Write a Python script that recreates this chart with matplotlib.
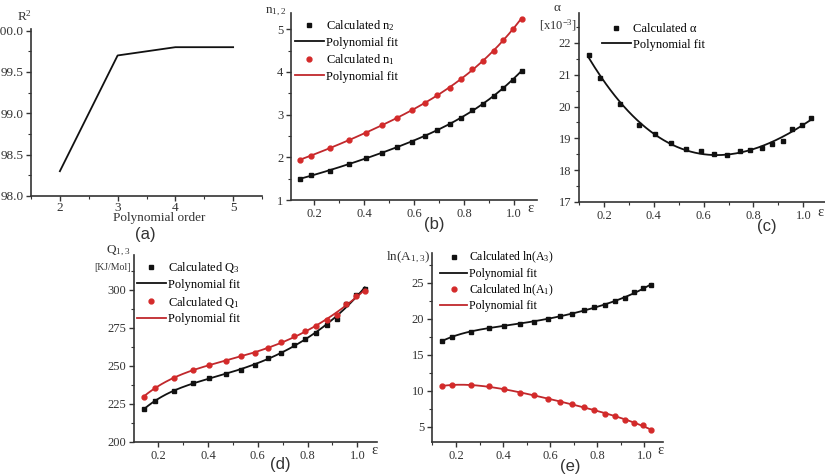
import numpy as np
import matplotlib
matplotlib.use("Agg")
import matplotlib.pyplot as plt
from matplotlib.ticker import MultipleLocator, FormatStrFormatter
from matplotlib.lines import Line2D

plt.rcParams['font.family'] = ['Liberation Serif', 'DejaVu Serif']
plt.rcParams['mathtext.default'] = 'regular'

# ---------------- data ----------------
orders = [2, 3, 4, 5]
r2 = [98.3, 99.7, 99.8, 99.8]

eps = [0.141, 0.185, 0.263, 0.34, 0.405, 0.47, 0.531, 0.59, 0.642, 0.692,
       0.744, 0.788, 0.833, 0.876, 0.918, 0.956, 0.994, 1.03]
n2 = [1.49, 1.58, 1.69, 1.84, 1.98, 2.11, 2.24, 2.37, 2.50, 2.64, 2.78, 2.93,
      3.10, 3.25, 3.43, 3.63, 3.82, 4.02]
n1 = [1.94, 2.04, 2.22, 2.40, 2.58, 2.75, 2.92, 3.10, 3.28, 3.46, 3.63, 3.84,
      4.06, 4.26, 4.48, 4.75, 5.00, 5.25]
alpha = [21.63, 20.9, 20.09, 19.42, 19.13, 18.85, 18.67, 18.59, 18.52, 18.48,
         18.6, 18.62, 18.7, 18.82, 18.92, 19.29, 19.41, 19.64]
Q3 = [221.5, 227.0, 233.4, 238.9, 242.2, 244.6, 247.5, 250.8, 255.0, 258.5,
      264.0, 267.9, 271.7, 276.7, 280.9, 290.5, 296.5, 300.7]
Q1 = [229.9, 235.4, 242.0, 247.5, 250.8, 253.4, 256.3, 258.5, 262.0, 265.5,
      269.5, 272.8, 276.1, 280.5, 283.8, 291.0, 296.3, 299.2]
lnA3 = [16.9, 17.5, 18.2, 18.75, 19.0, 19.3, 19.6, 20.0, 20.3, 20.7, 21.2,
        21.6, 21.9, 22.45, 22.8, 23.65, 24.3, 24.7]
lnA1 = [10.65, 10.83, 10.79, 10.6, 10.19, 9.72, 9.4, 8.89, 8.47, 8.15, 7.78,
        7.36, 6.85, 6.44, 5.93, 5.6, 5.23, 4.54]

BLACK = '#111111'
RED = '#d42a2a'
RED_LINE = '#c0282c'
SPINE = '#333333'
TXT = '#333333'

W, H = 825, 476
fig = plt.figure(figsize=(W / 100, H / 100), dpi=100)


def add_axes(left, right, top, bottom):
    return fig.add_axes([left / W, 1 - bottom / H, (right - left) / W, (bottom - top) / H])


def style(ax, fs=9, xpad=2):
    for s in ['top', 'right']:
        ax.spines[s].set_visible(False)
    for s in ['left', 'bottom']:
        ax.spines[s].set_color(SPINE)
        ax.spines[s].set_linewidth(1.2)
    ax.tick_params(which='major', direction='out', length=3.5, width=1.0,
                   color=SPINE, labelsize=fs, labelcolor=TXT, pad=2)
    ax.tick_params(axis='x', which='major', pad=xpad)
    ax.tick_params(which='minor', direction='out', length=2, width=0.8, color=SPINE)


def fit_line(x, y, deg):
    c = np.polyfit(x, y, deg)
    xs = np.linspace(min(x), max(x), 200)
    return xs, np.polyval(c, xs)


def px(x, y):
    return x / W, 1 - y / H


def legend(ax, entries, left, top, fs=9, spacing=0.3):
    handles = []
    labels = []
    for kind, color, label in entries:
        if kind == 's':
            h = Line2D([], [], ls='none', marker='s', ms=3.5, color=color)
        elif kind == 'o':
            h = Line2D([], [], ls='none', marker='o', ms=3.5, color=color)
        else:
            h = Line2D([], [], lw=1.3, color=color)
        handles.append(h)
        labels.append(label)
    ax.legend(handles, labels, loc='upper left', bbox_to_anchor=px(left, top),
              bbox_transform=fig.transFigure, frameon=False, fontsize=fs,
              handlelength=2.3, handletextpad=0.15, labelspacing=spacing,
              borderpad=0, borderaxespad=0)


def panel_label(x, y, s):
    fig.text(*px(x, y), s, ha='center', va='center', fontsize=12,
             family=['Liberation Sans'], color=TXT)


# ---------------- (a) ----------------
ax = add_axes(31, 262, 29, 196)
style(ax, 9.5, xpad=0.5)
ax.plot(orders, r2, color=BLACK, lw=1.3)
ax.set_xlim(1.5, 5.5)
ax.set_ylim(98.0, 100.02)
ax.set_xticks(orders)
ax.set_yticks([98.0, 98.5, 99.0, 99.5, 100.0])
ax.yaxis.set_major_formatter(FormatStrFormatter('%.1f'))
ax.xaxis.set_minor_locator(MultipleLocator(0.5))
ax.yaxis.set_minor_locator(MultipleLocator(0.25))
fig.text(*px(25, 16), 'R$^2$', ha='center', va='center', fontsize=9.5, color=TXT)
fig.text(*px(159, 218), 'Polynomial order', ha='center', va='center', fontsize=9.5, color=TXT)
panel_label(145, 235, '(a)')

# ---------------- (b) ----------------
ax = add_axes(291, 537, 13, 200)
style(ax)
xs, ys = fit_line(eps, n2, 4)
ax.plot(xs, ys, color=BLACK, lw=1.3)
xs, ys = fit_line(eps, n1, 4)
ax.plot(xs, ys, color=RED_LINE, lw=1.3)
ax.plot(eps, n2, 's', ms=3.5, color=BLACK)
ax.plot(eps, n1, 'o', ms=3.5, color=RED)
ax.set_xlim(0.106, 1.092)
ax.set_ylim(1, 5.38)
ax.set_xticks([0.2, 0.4, 0.6, 0.8, 1.0])
ax.set_yticks([1, 2, 3, 4, 5])
ax.xaxis.set_major_formatter(FormatStrFormatter('%.1f'))
ax.xaxis.set_minor_locator(MultipleLocator(0.1))
ax.yaxis.set_minor_locator(MultipleLocator(0.5))
legend(ax, [('s', BLACK, 'Calculated n$_2$'), ('l', BLACK, 'Polynomial fit'),
            ('o', RED, 'Calculated n$_1$'), ('l', RED_LINE, 'Polynomial fit')],
       295, 18)
fig.text(*px(276, 12), 'n$_{1,2}$', ha='center', va='center', fontsize=9.5, color=TXT)
fig.text(*px(531, 209), 'ε', ha='center', va='center', fontsize=10.5, color=TXT)
panel_label(434, 225, '(b)')

# ---------------- (c) ----------------
ax = add_axes(579, 825, 13, 202)
style(ax)
xs, ys = fit_line(eps, alpha, 3)
ax.plot(xs, ys, color=BLACK, lw=1.3)
ax.plot(eps, alpha, 's', ms=3.5, color=BLACK)
ax.set_xlim(0.10, 1.087)
ax.set_ylim(17, 22.94)
ax.set_xticks([0.2, 0.4, 0.6, 0.8, 1.0])
ax.set_yticks([17, 18, 19, 20, 21, 22])
ax.xaxis.set_major_formatter(FormatStrFormatter('%.1f'))
ax.xaxis.set_minor_locator(MultipleLocator(0.1))
ax.yaxis.set_minor_locator(MultipleLocator(0.5))
legend(ax, [('s', BLACK, 'Calculated α'), ('l', BLACK, 'Polynomial fit')], 602, 23)
fig.text(*px(557, 8), 'α', ha='center', va='center', fontsize=9.5, color=TXT)
fig.text(*px(558, 25), '[x10$^{-3}$]', ha='center', va='center', fontsize=9, color=TXT)
fig.text(*px(821, 212), 'ε', ha='center', va='center', fontsize=10.5, color=TXT)
panel_label(767, 226, '(c)')

# ---------------- (d) ----------------
ax = add_axes(134, 377, 255, 442)
style(ax)
xs, ys = fit_line(eps, Q3, 5)
ax.plot(xs, ys, color=BLACK, lw=1.3)
xs, ys = fit_line(eps, Q1, 5)
ax.plot(xs, ys, color=RED_LINE, lw=1.3)
ax.plot(eps, Q3, 's', ms=3.5, color=BLACK)
ax.plot(eps, Q1, 'o', ms=3.5, color=RED)
ax.set_xlim(0.102, 1.079)
ax.set_ylim(200, 323)
ax.set_xticks([0.2, 0.4, 0.6, 0.8, 1.0])
ax.set_yticks([200, 225, 250, 275, 300])
ax.xaxis.set_major_formatter(FormatStrFormatter('%.1f'))
ax.xaxis.set_minor_locator(MultipleLocator(0.1))
ax.yaxis.set_minor_locator(MultipleLocator(12.5))
legend(ax, [('s', BLACK, 'Calculated Q$_3$'), ('l', BLACK, 'Polynomial fit'),
            ('o', RED, 'Calculated Q$_1$'), ('l', RED_LINE, 'Polynomial fit')],
       137, 260)
fig.text(*px(118, 251), 'Q$_{1,3}$', ha='center', va='center', fontsize=9.5, color=TXT)
fig.text(*px(112, 268), '[KJ/Mol]', ha='center', va='center', fontsize=7, color=TXT)
fig.text(*px(375, 451), 'ε', ha='center', va='center', fontsize=10.5, color=TXT)
panel_label(280, 465, '(d)')

# ---------------- (e) ----------------
ax = add_axes(432, 663, 253, 442)
style(ax)
xs, ys = fit_line(eps, lnA3, 5)
ax.plot(xs, ys, color=BLACK, lw=1.3)
xs, ys = fit_line(eps, lnA1, 4)
ax.plot(xs, ys, color=RED_LINE, lw=1.3)
ax.plot(eps, lnA3, 's', ms=3.5, color=BLACK)
ax.plot(eps, lnA1, 'o', ms=3.5, color=RED)
ax.set_xlim(0.098, 1.079)
ax.set_ylim(2.9, 29.1)
ax.set_xticks([0.2, 0.4, 0.6, 0.8, 1.0])
ax.set_yticks([5, 10, 15, 20, 25])
ax.xaxis.set_major_formatter(FormatStrFormatter('%.1f'))
ax.xaxis.set_minor_locator(MultipleLocator(0.1))
ax.yaxis.set_minor_locator(MultipleLocator(2.5))
legend(ax, [('s', BLACK, 'Calculated ln(A$_3$)'), ('l', BLACK, 'Polynomial fit'),
            ('o', RED, 'Calculated ln(A$_1$)'), ('l', RED_LINE, 'Polynomial fit')],
       440, 250, fs=8.5, spacing=0.2)
fig.text(*px(408, 257), 'ln(A$_{1,3}$)', ha='center', va='center', fontsize=9.5, color=TXT)
fig.text(*px(661, 451), 'ε', ha='center', va='center', fontsize=10.5, color=TXT)
panel_label(570, 467, '(e)')

fig.savefig('out.png', dpi=100)
